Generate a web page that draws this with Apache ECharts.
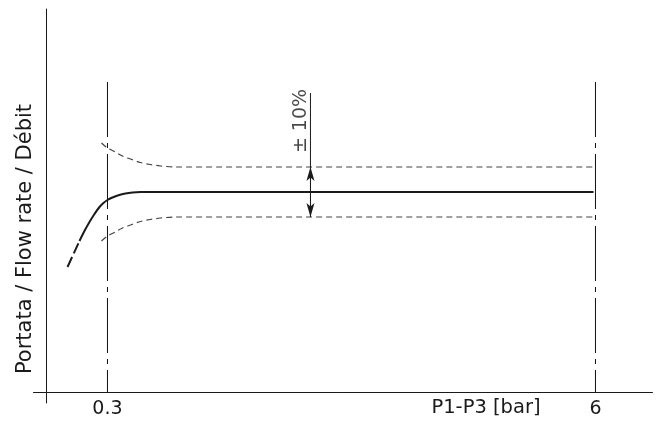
<!DOCTYPE html>
<html>
<head>
<meta charset="utf-8">
<script src="https://cdn.jsdelivr.net/npm/echarts@6/dist/echarts.min.js"></script>
<style>html,body{margin:0;padding:0;background:#fff}#c{width:657px;height:421px}</style>
</head>
<body>
<div id="c"></div>
<script>
// ---- data (x in bar, schematic; y in % of nominal flow) ----
const xTickValues = [0.3, 6];
const xTickLabels = ['0.3', '6'];
const xAxisTitle = 'P1-P3 [bar]';
const yAxisTitle = 'Portata / Flow rate / Débit';
const bandLabel = '± 10%';

// nominal curve: dashed start then solid
const nominalStartX = [-0.167, -0.097, -0.027];
const nominalStartY = [70, 75.2, 80.4];
const nominalX = [-0.027, 0.031, 0.090, 0.148, 0.207, 0.253, 0.3, 0.358, 0.428, 0.510, 0.592, 0.685, 5.977];
const nominalY = [80.4, 84.4, 88, 91.2, 94, 95.6, 96.8, 97.8, 98.72, 99.44, 99.84, 100, 100];
// tolerance band
const bandX = [0.23, 0.3, 0.393, 0.475, 0.569, 0.685, 0.802, 0.919, 1.094, 5.977];
const upperY = [119.6, 117.6, 116, 114.4, 113.2, 111.8, 111, 110.4, 110, 110];
const lowerY = [80.4, 82.4, 84, 85.6, 86.8, 88.2, 89, 89.6, 90, 90];
// reference (centre) lines at 0.3 and 6 bar
const guideTop = 144, guideBottom = 20;
// tolerance arrow
const arrowX = 2.671, arrowTop = 139.6, arrowMid = 100, arrowHi = 110, arrowLo = 90;
const bandLabelPos = [2.566, 128.4];

const xMin = -0.564, xMax = 6.666, yMin = 15.6, yMax = 173.2;

const zip = (xs, ys) => xs.map((x, i) => [x, ys[i]]);
const ink = '#1a1a1a';

const chart = echarts.init(document.getElementById('c'), null, {renderer: 'canvas'});
const guides = xTickValues.map(v => ({
  type: 'line', data: [[v, guideTop], [v, guideBottom]], symbol: 'none', silent: true,
  lineStyle: {color: '#111', width: 1, type: [55, 6, 5, 6]}
}));

chart.setOption({
  animation: false,
  backgroundColor: '#fff',
  grid: {left: 33.5, right: 4.5, top: 9, bottom: 18, containLabel: false},
  xAxis: {
    type: 'value', min: xMin, max: xMax, offset: -11,
    axisLine: {onZero: false, lineStyle: {color: ink, width: 1}},
    axisTick: {show: false},
    splitLine: {show: false},
    axisLabel: {
      customValues: xTickValues, margin: 8,
      formatter: v => xTickLabels[xTickValues.indexOf(v)] ?? '',
      color: ink, fontSize: 19, fontFamily: 'DejaVu Sans'
    }
  },
  yAxis: {
    type: 'value', min: yMin, max: yMax, offset: -13,
    axisLine: {show: true, onZero: false, lineStyle: {color: ink, width: 1}},
    axisTick: {show: false}, axisLabel: {show: false}, splitLine: {show: false}
  },
  graphic: [
    {type: 'text', x: 26, y: 239, rotation: Math.PI / 2,
     style: {text: yAxisTitle, fill: ink, font: '21px "DejaVu Sans"', align: 'center', verticalAlign: 'middle'}},
    {type: 'text', x: 486, y: 408,
     style: {text: xAxisTitle, fill: ink, font: '19.5px "DejaVu Sans"', align: 'center', verticalAlign: 'middle'}}
  ],
  series: [
    ...guides,
    {type: 'line', data: zip(nominalStartX, nominalStartY), symbol: 'none',
     lineStyle: {color: ink, width: 2, type: [11, 4]}},
    {type: 'line', data: zip(nominalX, nominalY), symbol: 'none', smooth: 0.4,
     lineStyle: {color: ink, width: 2}},
    {type: 'line', data: zip(bandX, upperY), symbol: 'none', smooth: 0.3,
     lineStyle: {color: '#444', width: 1.2, type: [6, 4]}},
    {type: 'line', data: zip(bandX, lowerY), symbol: 'none', smooth: 0.3,
     lineStyle: {color: '#444', width: 1.2, type: [6, 4]}},
    {type: 'line', data: [[arrowX, arrowTop], [arrowX, arrowLo]], symbol: 'none',
     lineStyle: {color: ink, width: 1},
     markLine: {
       silent: true, symbol: ['none', 'arrow'], symbolSize: [6, 14], label: {show: false},
       lineStyle: {color: ink, width: 1, type: 'solid'},
       data: [
         [{coord: [arrowX, arrowMid]}, {coord: [arrowX, arrowHi]}],
         [{coord: [arrowX, arrowMid]}, {coord: [arrowX, arrowLo]}]
       ]
     }},
    {type: 'scatter', data: [bandLabelPos], symbolSize: 0, silent: true,
     label: {show: true, position: 'inside', rotate: 90, formatter: bandLabel,
             color: ink, fontSize: 19, fontFamily: 'DejaVu Sans'}}
  ]
});
</script>
</body>
</html>
